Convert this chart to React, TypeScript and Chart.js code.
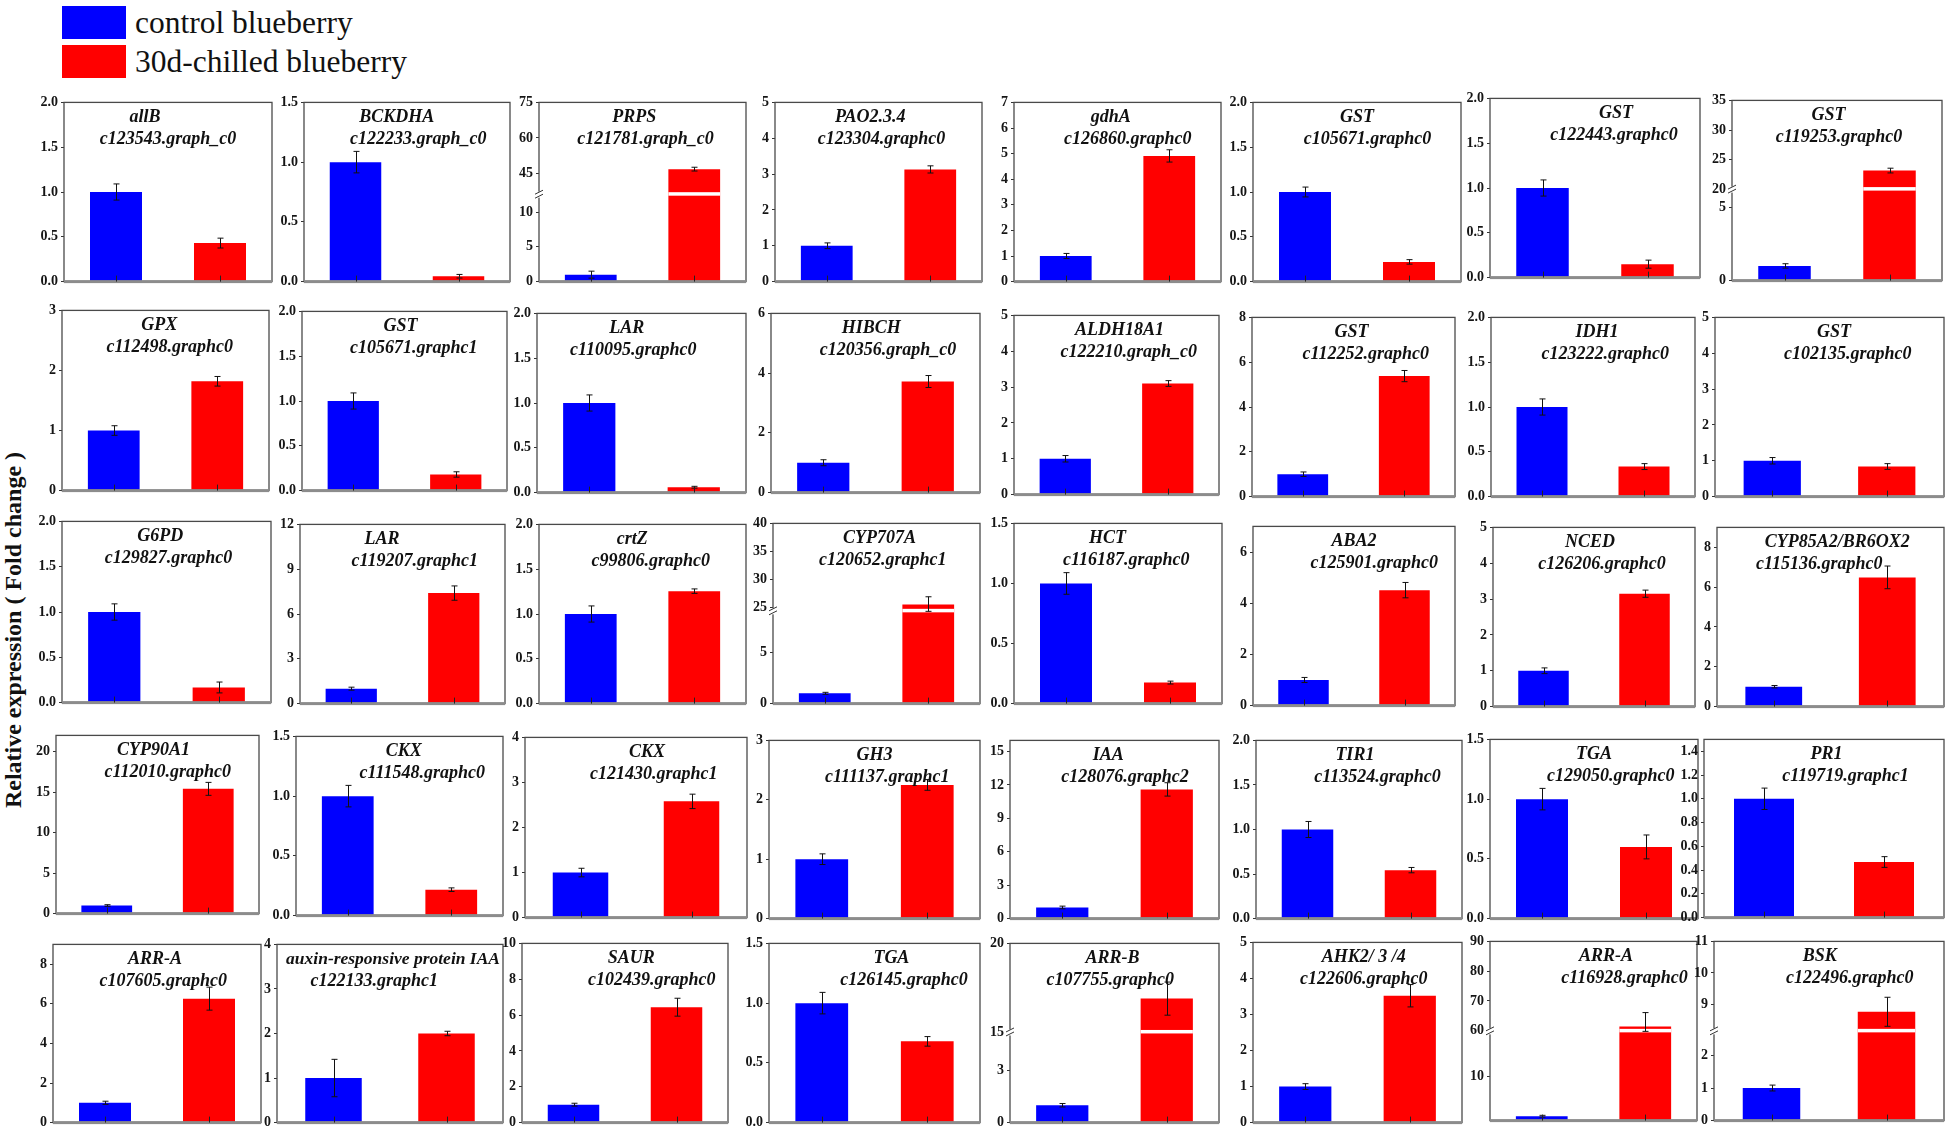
import React, { useEffect, useRef } from 'react';
import { Chart, registerables, LinearScale } from 'chart.js';

// ---------------- DATA ----------------
const legendLabels = ['control blueberry', '30d-chilled blueberry'];
const yAxisTitle = 'Relative expression ( Fold change )';
const categories = ['control', '30d-chilled'];

const geneNames = [
  'allB', 'BCKDHA', 'PRPS', 'PAO2.3.4', 'gdhA', 'GST', 'GST', 'GST',
  'GPX', 'GST', 'LAR', 'HIBCH', 'ALDH18A1', 'GST', 'IDH1', 'GST',
  'G6PD', 'LAR', 'crtZ', 'CYP707A', 'HCT', 'ABA2', 'NCED', 'CYP85A2/BR6OX2',
  'CYP90A1', 'CKX', 'CKX', 'GH3', 'IAA', 'TIR1', 'TGA', 'PR1',
  'ARR-A', 'auxin-responsive protein IAA', 'SAUR', 'TGA', 'ARR-B', 'AHK2/ 3 /4', 'ARR-A', 'BSK',
];

const geneIds = [
  'c123543.graph_c0', 'c122233.graph_c0', 'c121781.graph_c0', 'c123304.graphc0', 'c126860.graphc0', 'c105671.graphc0', 'c122443.graphc0', 'c119253.graphc0',
  'c112498.graphc0', 'c105671.graphc1', 'c110095.graphc0', 'c120356.graph_c0', 'c122210.graph_c0', 'c112252.graphc0', 'c123222.graphc0', 'c102135.graphc0',
  'c129827.graphc0', 'c119207.graphc1', 'c99806.graphc0', 'c120652.graphc1', 'c116187.graphc0', 'c125901.graphc0', 'c126206.graphc0', 'c115136.graphc0',
  'c112010.graphc0', 'c111548.graphc0', 'c121430.graphc1', 'c111137.graphc1', 'c128076.graphc2', 'c113524.graphc0', 'c129050.graphc0', 'c119719.graphc1',
  'c107605.graphc0', 'c122133.graphc1', 'c102439.graphc0', 'c126145.graphc0', 'c107755.graphc0', 'c122606.graphc0', 'c116928.graphc0', 'c122496.graphc0',
];

const controlValues = [
  1.0, 1.0, 1.0, 1.0, 1.0, 1.0, 1.0, 1.0,
  1.0, 1.0, 1.0, 1.0, 1.0, 1.0, 1.0, 1.0,
  1.0, 1.0, 1.0, 1.0, 1.0, 1.0, 1.0, 1.0,
  1.0, 1.0, 1.0, 1.0, 1.0, 1.0, 1.0, 1.0,
  1.0, 1.0, 1.0, 1.0, 1.0, 1.0, 1.0, 1.0,
];

const controlErrors = [
  0.09, 0.09, 0.5, 0.08, 0.1, 0.055, 0.09, 0.15,
  0.08, 0.09, 0.09, 0.1, 0.09, 0.1, 0.09, 0.09,
  0.09, 0.1, 0.09, 0.1, 0.09, 0.1, 0.08, 0.06,
  0.1, 0.09, 0.095, 0.09, 0.12, 0.09, 0.09, 0.09,
  0.08, 0.42, 0.08, 0.09, 0.1, 0.08, 0.2, 0.09,
];

const chilledValues = [
  0.43, 0.045, 46.8, 3.13, 4.91, 0.22, 0.15, 23.2,
  1.82, 0.18, 0.06, 3.72, 3.1, 5.38, 0.335, 0.84,
  0.167, 7.4, 1.255, 25.5, 0.175, 4.51, 3.15, 6.49,
  15.4, 0.217, 2.58, 2.25, 11.6, 0.544, 0.6, 0.468,
  6.26, 2.0, 6.44, 0.68, 16.9, 3.52, 61.4, 8.77,
];

const chilledErrors = [
  0.055, 0.015, 0.8, 0.1, 0.24, 0.025, 0.045, 0.4,
  0.08, 0.03, 0.01, 0.2, 0.08, 0.25, 0.033, 0.08,
  0.06, 0.48, 0.025, 1.4, 0.012, 0.3, 0.1, 0.57,
  0.8, 0.015, 0.16, 0.09, 0.6, 0.03, 0.1, 0.045,
  0.58, 0.05, 0.5, 0.04, 0.93, 0.31, 4.7, 0.46,
];

const yMaxValues = [
  2, 1.5, 75, 5, 7, 2, 2, 35,
  3, 2, 2, 6, 5, 8, 2, 5,
  2, 12, 2, 40, 1.5, 7, 5, 9,
  22, 1.5, 4, 3, 16, 2, 1.5, 1.5,
  9, 4, 10, 1.5, 20, 5, 90, 11,
];

const yTickValues: number[][] = [
  [0, 0.5, 1, 1.5, 2], [0, 0.5, 1, 1.5], [0, 5, 10, 45, 60, 75], [0, 1, 2, 3, 4, 5],
  [0, 1, 2, 3, 4, 5, 6, 7], [0, 0.5, 1, 1.5, 2], [0, 0.5, 1, 1.5, 2], [0, 5, 20, 25, 30, 35],
  [0, 1, 2, 3], [0, 0.5, 1, 1.5, 2], [0, 0.5, 1, 1.5, 2], [0, 2, 4, 6],
  [0, 1, 2, 3, 4, 5], [0, 2, 4, 6, 8], [0, 0.5, 1, 1.5, 2], [0, 1, 2, 3, 4, 5],
  [0, 0.5, 1, 1.5, 2], [0, 3, 6, 9, 12], [0, 0.5, 1, 1.5, 2], [0, 5, 25, 30, 35, 40],
  [0, 0.5, 1, 1.5], [0, 2, 4, 6], [0, 1, 2, 3, 4, 5], [0, 2, 4, 6, 8],
  [0, 5, 10, 15, 20], [0, 0.5, 1, 1.5], [0, 1, 2, 3, 4], [0, 1, 2, 3],
  [0, 3, 6, 9, 12, 15], [0, 0.5, 1, 1.5, 2], [0, 0.5, 1, 1.5], [0, 0.2, 0.4, 0.6, 0.8, 1, 1.2, 1.4],
  [0, 2, 4, 6, 8], [0, 1, 2, 3, 4], [0, 2, 4, 6, 8, 10], [0, 0.5, 1, 1.5],
  [0, 3, 15, 20], [0, 1, 2, 3, 4, 5], [10, 60, 70, 80, 90], [0, 1, 2, 9, 10, 11],
];

const tickDecimals = [
  1, 1, 0, 0, 0, 1, 1, 0,
  0, 1, 1, 0, 0, 0, 1, 0,
  1, 0, 1, 0, 1, 0, 0, 0,
  0, 1, 0, 0, 0, 1, 1, 1,
  0, 0, 0, 1, 0, 0, 0, 0,
];

// broken axes: lower segment ends at breakLow, upper segment starts at breakHigh
const breakLow: (number | null)[] = [
  null, null, 12.5, null, null, null, null, 6.2,
  null, null, null, null, null, null, null, null,
  null, null, null, 9, null, null, null, null,
  null, null, null, null, null, null, null, null,
  null, null, null, null, 5.2, null, 20.3, 2.74,
];
const breakHigh: (number | null)[] = [
  null, null, 36, null, null, null, null, 20,
  null, null, null, null, null, null, null, null,
  null, null, null, 24.3, null, null, null, null,
  null, null, null, null, null, null, null, null,
  null, null, null, null, 15, null, 59.8, 8.15,
];
const breakSplit: (number | null)[] = [
  null, null, 0.485, null, null, null, null, 0.505,
  null, null, null, null, null, null, null, null,
  null, null, null, 0.512, null, null, null, null,
  null, null, null, null, null, null, null, null,
  null, null, null, null, 0.503, null, 0.498, 0.498,
];

// ---------------- LAYOUT ----------------
const frameLeft = [
  64, 304, 539, 775, 1014, 1253, 1490, 1732,
  62, 302, 537, 771, 1014, 1252, 1491, 1715,
  62, 300, 539, 773, 1014, 1253, 1493, 1717,
  56, 296, 525, 769, 1010, 1256, 1490, 1704,
  53, 277, 522, 769, 1010, 1253, 1490, 1714,
];
const frameRight = [
  272, 510, 746, 982, 1221, 1461, 1700, 1942,
  269, 507, 746, 980, 1219, 1455, 1695, 1944,
  271, 505, 746, 980, 1222, 1455, 1695, 1944,
  259, 503, 747, 980, 1219, 1462, 1698, 1944,
  261, 503, 728, 980, 1219, 1462, 1697, 1944,
];
const frameTop = [
  101, 101, 101, 101, 101, 101, 97, 99,
  309, 310, 312, 312, 314, 316, 316, 316,
  520, 523, 523, 522, 522, 525, 526, 526,
  734, 735, 736, 739, 739, 739, 738, 738,
  943, 943, 942, 942, 942, 941, 940, 940,
];
const frameBottom = [
  283, 283, 283, 283, 283, 283, 279, 282,
  492, 492, 494, 494, 496, 498, 498, 498,
  704, 705, 705, 705, 705, 707, 708, 708,
  915, 917, 919, 920, 920, 920, 920, 919,
  1124, 1124, 1124, 1124, 1124, 1124, 1122, 1122,
];
const nameX = [
  0.39, 0.45, 0.46, 0.46, 0.467, 0.5, 0.6, 0.46,
  0.47, 0.48, 0.43, 0.48, 0.515, 0.49, 0.52, 0.52,
  0.47, 0.4, 0.45, 0.515, 0.45, 0.5, 0.48, 0.53,
  0.48, 0.52, 0.55, 0.5, 0.47, 0.48, 0.5, 0.51,
  0.49, 0.53, 0.53, 0.58, 0.49, 0.53, 0.56, 0.46,
];
const idX = [
  0.5, 0.555, 0.515, 0.515, 0.55, 0.55, 0.59, 0.51,
  0.52, 0.545, 0.46, 0.56, 0.56, 0.56, 0.56, 0.58,
  0.51, 0.56, 0.54, 0.53, 0.54, 0.6, 0.54, 0.45,
  0.55, 0.61, 0.58, 0.56, 0.55, 0.59, 0.58, 0.59,
  0.53, 0.43, 0.63, 0.64, 0.48, 0.53, 0.65, 0.59,
];

const AXIS_W = 36;
const PAD_T = 10;
const PAD_B = 10;
const PAD_R = 4;
const BLUE = '#0000ff';
const RED = '#ff0000';
const SERIF = '"Liberation Serif", "Times New Roman", serif';

// ---------------- BROKEN LINEAR SCALE ----------------
class BrokenScale extends LinearScale {
  static id = 'brokenLinear';
  static defaults = {};
  getPixelForValue(value: any) {
    const b = (this as any).brk;
    if (!b || value === null || value === undefined) return super.getPixelForValue(value);
    const min = this.min;
    const max = this.max;
    let d: number;
    if (value <= b.low) d = ((value - min) / (b.low - min)) * b.split;
    else if (value >= b.high) d = b.split + ((value - b.high) / (max - b.high)) * (1 - b.split);
    else d = b.split;
    return this.getPixelForDecimal(d);
  }
  getValueForPixel(pixel: number) {
    const b = (this as any).brk;
    if (!b) return super.getValueForPixel(pixel);
    const d = this.getDecimalForPixel(pixel);
    if (d <= b.split) return this.min + (d / b.split) * (b.low - this.min);
    return b.high + ((d - b.split) / (1 - b.split)) * (this.max - b.high);
  }
}

Chart.register(...registerables, BrokenScale as any);

function makePlugin(i: number) {
  const vals = [controlValues[i], chilledValues[i]];
  const errs = [controlErrors[i], chilledErrors[i]];
  const lo = breakLow[i];
  const hi = breakHigh[i];
  return {
    id: 'panelDecor' + i,
    afterDatasetsDraw(chart: any) {
      const ctx = chart.ctx;
      const ys = chart.scales.y;
      const meta = chart.getDatasetMeta(0);
      ctx.save();
      if (lo !== null && hi !== null) {
        const py = ys.getPixelForValue(lo);
        meta.data.forEach((bar: any, k: number) => {
          if (vals[k] >= hi) {
            ctx.fillStyle = '#ffffff';
            ctx.fillRect(bar.x - bar.width / 2, py - 2.5, bar.width, 3.5);
          }
        });
      }
      ctx.strokeStyle = '#111';
      ctx.lineWidth = 1;
      meta.data.forEach((bar: any, k: number) => {
        const x = Math.round(bar.x) + 0.5;
        const yT = ys.getPixelForValue(vals[k] + errs[k]);
        const yB = ys.getPixelForValue(vals[k] - errs[k]);
        ctx.beginPath();
        ctx.moveTo(x, yT);
        ctx.lineTo(x, yB);
        ctx.moveTo(x - 3, yT);
        ctx.lineTo(x + 3, yT);
        ctx.moveTo(x - 3, yB);
        ctx.lineTo(x + 3, yB);
        ctx.stroke();
      });
      ctx.restore();
    },
    afterDraw(chart: any) {
      const ctx = chart.ctx;
      const { left, right, top, bottom } = chart.chartArea;
      const ys = chart.scales.y;
      const meta = chart.getDatasetMeta(0);
      const w = right - left;
      ctx.save();
      // frame
      ctx.strokeStyle = '#4a4a4a';
      ctx.lineWidth = 1.3;
      ctx.strokeRect(left, top, w, bottom - top);
      ctx.fillStyle = '#8c8c8c';
      ctx.fillRect(left, bottom - 1.5, w, 3);
      // x tick marks at bar centres
      ctx.strokeStyle = '#222';
      ctx.lineWidth = 1;
      meta.data.forEach((bar: any) => {
        const x = Math.round(bar.x) + 0.5;
        ctx.beginPath();
        ctx.moveTo(x, bottom);
        ctx.lineTo(x, bottom - 6);
        ctx.stroke();
      });
      // break mark on the y axis
      if (lo !== null) {
        const py = ys.getPixelForValue(lo);
        ctx.fillStyle = '#ffffff';
        ctx.fillRect(left - 4, py - 3, 8, 6);
        ctx.strokeStyle = '#333';
        ctx.lineWidth = 1;
        ctx.beginPath();
        ctx.moveTo(left - 4, py - 0.5);
        ctx.lineTo(left + 4, py - 4.5);
        ctx.moveTo(left - 4, py + 3.5);
        ctx.lineTo(left + 4, py - 0.5);
        ctx.stroke();
      }
      // titles
      ctx.fillStyle = '#111';
      ctx.textAlign = 'center';
      ctx.textBaseline = 'middle';
      const drawFit = (text: string, fx: number, cy: number) => {
        let s = 18;
        ctx.font = `italic bold ${s}px ${SERIF}`;
        while (ctx.measureText(text).width > w - 6 && s > 8) {
          s -= 0.5;
          ctx.font = `italic bold ${s}px ${SERIF}`;
        }
        const tw = ctx.measureText(text).width;
        let cx = left + fx * w;
        cx = Math.max(left + tw / 2 + 3, Math.min(right - tw / 2 - 3, cx));
        ctx.fillText(text, cx, cy);
      };
      drawFit(geneNames[i], nameX[i], top + 15);
      drawFit(geneIds[i], idX[i], top + 37);
      ctx.restore();
    },
  };
}

function Panel({ index }: { index: number }) {
  const ref = useRef<HTMLCanvasElement>(null);
  const left = frameLeft[index] - AXIS_W;
  const top = frameTop[index] - PAD_T;
  const width = frameRight[index] - frameLeft[index] + AXIS_W + PAD_R;
  const height = frameBottom[index] - frameTop[index] + PAD_T + PAD_B;

  useEffect(() => {
    if (!ref.current) return;
    const i = index;
    const brk =
      breakLow[i] !== null ? { low: breakLow[i], high: breakHigh[i], split: breakSplit[i] } : null;
    const dec = tickDecimals[i];
    const chart = new Chart(ref.current, {
      type: 'bar',
      data: {
        labels: categories,
        datasets: [
          {
            data: [controlValues[i], chilledValues[i]],
            backgroundColor: [BLUE, RED],
            borderWidth: 0,
            barPercentage: 0.5,
            categoryPercentage: 1,
          },
        ],
      },
      options: {
        animation: false,
        responsive: false,
        devicePixelRatio: 1,
        layout: { padding: { left: 0, right: PAD_R, top: PAD_T, bottom: PAD_B } },
        plugins: {
          legend: { display: false },
          tooltip: { enabled: false },
          title: { display: false },
        },
        scales: {
          x: { display: false, offset: true },
          y: {
            type: 'brokenLinear' as any,
            min: 0,
            max: yMaxValues[i],
            afterFit: (s: any) => {
              s.width = AXIS_W;
            },
            afterBuildTicks: (s: any) => {
              s.brk = brk;
              s.ticks = yTickValues[i].map((v) => ({ value: v }));
            },
            ticks: {
              autoSkip: false,
              padding: 3,
              color: '#151515',
              font: { family: SERIF, weight: 'bold', size: 14 },
              callback: (v: any) => (dec ? Number(v).toFixed(1) : String(v)),
            },
            grid: { display: true, drawOnChartArea: false, drawTicks: true, tickLength: 3, color: '#333' },
            border: { display: false },
          },
        },
      } as any,
      plugins: [makePlugin(i)],
    });
    return () => chart.destroy();
  }, [index]);

  return (
    <canvas
      ref={ref}
      width={width}
      height={height}
      style={{ position: 'absolute', left, top, width, height }}
    />
  );
}

export default function App() {
  useEffect(() => {
    document.body.style.overflow = 'hidden';
  }, []);
  return (
    <div
      style={{
        position: 'absolute',
        left: 0,
        top: 0,
        width: 1946,
        height: 1132,
        overflow: 'hidden',
        background: '#ffffff',
        fontFamily: SERIF,
      }}
    >
      <div style={{ position: 'absolute', left: 62, top: 6, width: 64, height: 33, background: BLUE }} />
      <div style={{ position: 'absolute', left: 62, top: 45, width: 64, height: 33, background: RED }} />
      <div
        style={{
          position: 'absolute',
          left: 135,
          top: 7,
          fontSize: 31.5,
          lineHeight: '31px',
          color: '#111',
          whiteSpace: 'nowrap',
        }}
      >
        {legendLabels[0]}
      </div>
      <div
        style={{
          position: 'absolute',
          left: 135,
          top: 46,
          fontSize: 31.5,
          lineHeight: '31px',
          color: '#111',
          whiteSpace: 'nowrap',
        }}
      >
        {legendLabels[1]}
      </div>
      <div
        style={{
          position: 'absolute',
          left: 13,
          top: 630,
          transform: 'translate(-50%, -50%) rotate(-90deg)',
          fontSize: 24,
          fontWeight: 'bold',
          color: '#111',
          whiteSpace: 'nowrap',
        }}
      >
        {yAxisTitle}
      </div>
      {geneNames.map((_, i) => (
        <Panel key={i} index={i} />
      ))}
    </div>
  );
}
